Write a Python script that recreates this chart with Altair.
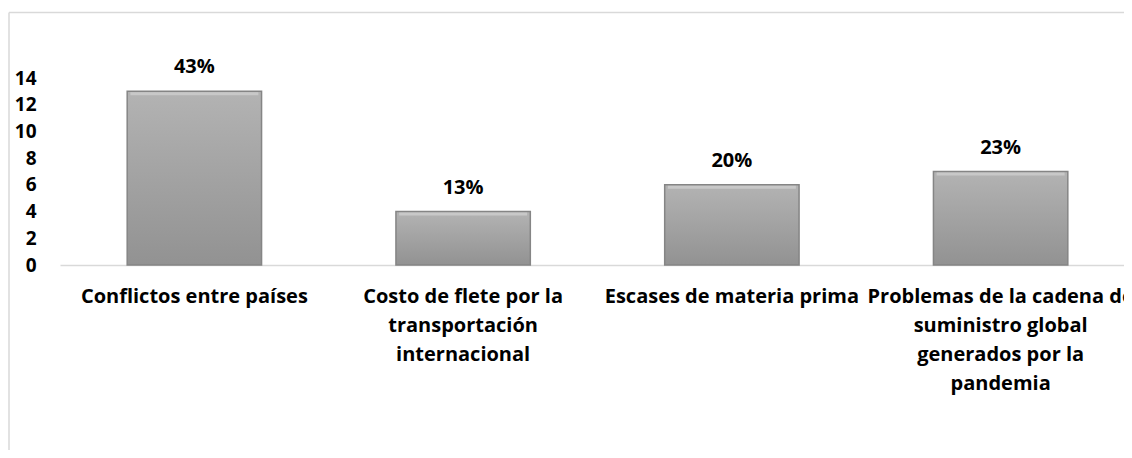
import altair as alt
import pandas as pd

categories = [
    "Conflictos entre países",
    "Costo de flete por la|transportación|internacional",
    "Escases de materia prima",
    "Problemas de la cadena de|suministro global|generados por la|pandemia",
]
values = [13, 4, 6, 7]
pct_labels = ["43%", "13%", "20%", "23%"]
y_ticks = [0, 2, 4, 6, 8, 10, 12, 14]

df = pd.DataFrame({"cat": categories, "val": values, "pct": pct_labels})

FONT = "Open Sans"
FS = 20
W, H = 1064, 187

xscale = alt.Scale(domain=categories, paddingInner=0.5, paddingOuter=0.25, range=[0, 1075])
yscale = alt.Scale(domain=[0, 14], nice=False)

xaxis = alt.Axis(
    title=None, labelAngle=0, ticks=False, domainColor="#d9d9d9", domainWidth=1.5,
    labelFont=FONT, labelFontSize=FS, labelFontWeight="bold", labelColor="#000000",
    labelPadding=21, labelLineHeight=29, labelLimit=0, labelOverlap=False,
    labelBound=False, labelFlush=False,
    labelExpr="split(datum.label, '|')", grid=False,
)
yaxis = alt.Axis(
    title=None, values=y_ticks, domain=False, ticks=False, grid=False,
    labelFont=FONT, labelFontSize=19, labelFontWeight="bold", labelColor="#000000",
    labelPadding=24, labelOverlap=False, labelBound=False, labelFlush=False,
)

base = alt.Chart(df)
X = alt.X("cat:N", scale=xscale, axis=xaxis, sort=categories)
Y = alt.Y("val:Q", scale=yscale, axis=yaxis)

grad = alt.Gradient(
    gradient="linear",
    stops=[alt.GradientStop(color="#b3b3b3", offset=0), alt.GradientStop(color="#929292", offset=1)],
    x1=0, x2=0, y1=0, y2=1,
)

bars = base.mark_bar(color=grad, stroke="#858585", strokeWidth=1.5).encode(x=X, y=Y)

highlight = base.mark_tick(thickness=3, color="#d2d2d2", size=128, yOffset=2.5).encode(x=X, y=Y)

labels = base.mark_text(
    font=FONT, fontSize=FS, fontWeight="bold", color="#000000", baseline="middle", dy=-24
).encode(x=X, y=Y, text="pct:N")

frame_data = alt.Data(values=[{"a": 1}])
frame_left = alt.Chart(frame_data).mark_rule(color="#d9d9d9", strokeWidth=1.5).encode(
    x=alt.value(-51), y=alt.value(-65.5), y2=alt.value(400)
)
frame_top = alt.Chart(frame_data).mark_rule(color="#d9d9d9", strokeWidth=1.5).encode(
    x=alt.value(-51), x2=alt.value(1100), y=alt.value(-65.5)
)

chart = alt.layer(frame_left, frame_top, bars, highlight, labels).properties(
    width=W, height=H,
    autosize=alt.AutoSizeParams(type="none"),
    padding={"left": 52, "top": 70, "right": 0, "bottom": 185},
    background="#ffffff",
).configure_view(stroke=None).configure_axis(labelOverlap=False)

chart.save("out.html", embed_options={"renderer": "svg", "actions": False})
